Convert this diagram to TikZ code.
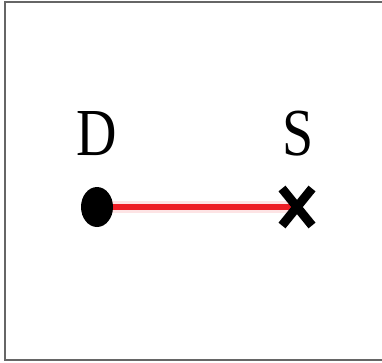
\documentclass[tikz,border=0pt]{standalone}
\usepackage{fontspec}
\setmainfont{Liberation Serif}
\usetikzlibrary{shapes.geometric, shapes.misc}
\definecolor{linkred}{RGB}{237,28,36}
\tikzset{
  lbl/.style={inner sep=0pt, font=\fontsize{56}{60}\selectfont},
  dotnode/.style={ellipse, fill=black, inner sep=0pt, minimum width=32pt, minimum height=40pt},
  crossnode/.style={cross out, draw=black, line width=9pt, inner sep=0pt, minimum width=21pt, minimum height=28pt}
}
\begin{document}
\begin{tikzpicture}[x=1pt, y=-1pt]
\useasboundingbox (0,0) rectangle (382,362);
\draw[gray!80!black, line width=1.6pt] (384,2) -- (5,2) -- (5,360) -- (384,360);

\coordinate (Dpos) at (97,207);
\coordinate (Spos) at (297,207);
\draw[linkred!12, line width=12pt] (Dpos) -- (Spos);
\draw[linkred, line width=6pt] (Dpos) -- (Spos);

\node[dotnode] (D) at (Dpos) {};
\node[crossnode] (S) at (Spos) {};
\node[lbl] (Dlbl) at (97,134) {\scalebox{1}[1.2]{D}};
\node[lbl] (Slbl) at (298,134) {\scalebox{1}[1.2]{S}};
\end{tikzpicture}
\end{document}
